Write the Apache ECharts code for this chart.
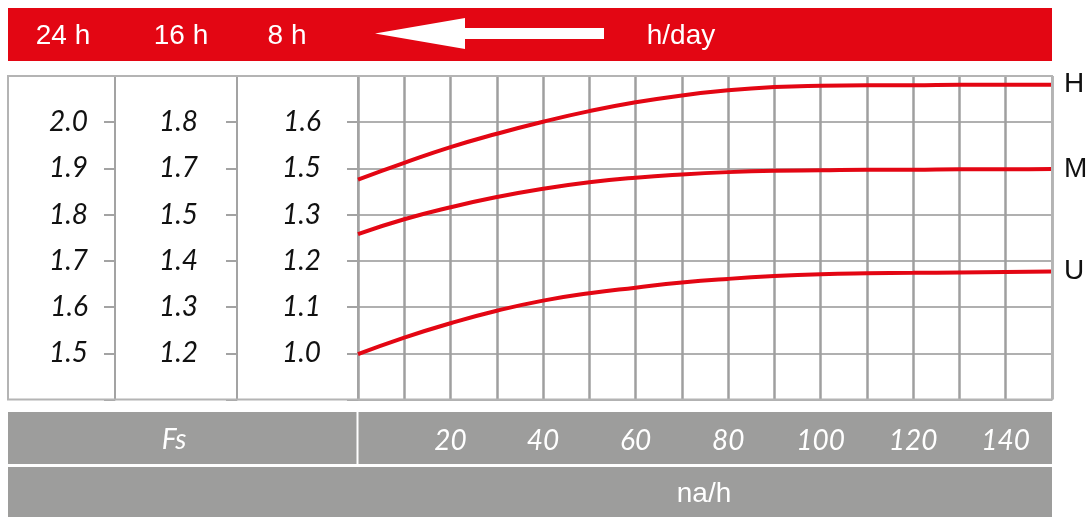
<!DOCTYPE html>
<html>
<head>
<meta charset="utf-8">
<script src="https://cdn.jsdelivr.net/npm/echarts@6/dist/echarts.min.js"></script>
<style>
html,body{margin:0;padding:0;background:#fff;}
#chart{width:1089px;height:517px;}
</style>
</head>
<body>
<div id="chart"></div>
<script>
// x values (na/h)
const naPerHour = [0,10,20,30,40,50,60,70,80,90,100,110,120,130,140,150];
// curves, expressed on the 24 h Fs scale
const curveH = [1.876,1.912,1.946,1.975,2.001,2.024,2.043,2.058,2.069,2.076,2.079,2.080,2.080,2.081,2.081,2.081];
const curveM = [1.758,1.790,1.816,1.838,1.856,1.870,1.880,1.887,1.892,1.895,1.896,1.897,1.897,1.898,1.898,1.899];
const curveU = [1.498,1.534,1.565,1.592,1.614,1.630,1.642,1.653,1.661,1.667,1.671,1.673,1.674,1.675,1.676,1.677];
// tick labels of the three Fs columns
const fs24 = ['1.5','1.6','1.7','1.8','1.9','2.0'];
const fs16 = ['1.2','1.3','1.4','1.5','1.7','1.8'];
const fs8  = ['1.0','1.1','1.2','1.3','1.5','1.6'];
const xTickLabels = [20,40,60,80,100,120,140];
const headerLabels = ['24 h','16 h','8 h'];

const RED = '#e30613';
const GRAYLINE = '#a3a3a3';
const BAR = '#9d9d9c';
const numFont = 'Lato';
const txtFont = '"Liberation Sans", Arial, sans-serif';

function makeY(labels, offset, margin, split) {
  return {
    type: 'value', min: 1.4, max: 2.1, interval: 0.1, position: 'left', offset: offset,
    axisLine: {show: true, onZero: false, lineStyle: {color: GRAYLINE, width: 2}},
    axisTick: {show: true, length: 11, lineStyle: {color: GRAYLINE, width: 2}},
    axisLabel: {
      margin: margin, color: '#111', fontSize: 28, fontStyle: 'italic', fontFamily: numFont,
      formatter: function (v) { const i = Math.round((v - 1.5) * 10); return labels[i] || ''; }
    },
    splitLine: {show: split, lineStyle: {color: '#b0b0b0', width: 2}}
  };
}

const chart = echarts.init(document.getElementById('chart'), null, {renderer: 'canvas'});

const headerX = [63, 181, 287];
const graphics = [
  {type: 'rect', shape: {x: 8, y: 8, width: 1044, height: 53}, style: {fill: RED}, z: 0},
  {type: 'polygon', shape: {points: [[375,33.5],[465,18],[465,28],[604,28],[604,39],[465,39],[465,49]]}, style: {fill: '#fff'}, z: 1},
  {type: 'text', x: 681, y: 36, style: {text: 'h/day', fill: '#fff', font: '28px ' + txtFont, textAlign: 'center', textVerticalAlign: 'middle'}, z: 1},
  {type: 'rect', shape: {x: 8, y: 76, width: 1044, height: 323.5}, style: {fill: 'none', stroke: '#b4b4b4', lineWidth: 2}, z: 5},
  {type: 'rect', shape: {x: 8, y: 412, width: 1044, height: 52}, style: {fill: BAR}, z: 0},
  {type: 'rect', shape: {x: 8, y: 467, width: 1044, height: 50}, style: {fill: BAR}, z: 0},
  {type: 'line', shape: {x1: 357.5, y1: 412, x2: 357.5, y2: 464}, style: {stroke: '#fff', lineWidth: 2}, z: 1},
  {type: 'text', x: 174, y: 440, style: {text: 'Fs', fill: '#fff', font: 'italic 28px ' + numFont, textAlign: 'center', textVerticalAlign: 'middle'}, z: 1},
  {type: 'text', x: 704, y: 494, style: {text: 'na/h', fill: '#fff', font: '28px ' + txtFont, textAlign: 'center', textVerticalAlign: 'middle'}, z: 1}
];
headerLabels.forEach(function (t, i) {
  graphics.push({type: 'text', x: headerX[i], y: 36, style: {text: t, fill: '#fff', font: '28px ' + txtFont, textAlign: 'center', textVerticalAlign: 'middle'}, z: 1});
});

function lineSeries(name, data) {
  return {
    name: name, type: 'line', yAxisIndex: 0, smooth: 0.5, symbol: 'none',
    data: naPerHour.map(function (x, i) { return [x, data[i]]; }),
    lineStyle: {color: RED, width: 4},
    endLabel: {show: true, formatter: name, color: '#111', fontSize: 28, fontFamily: txtFont, distance: 12},
    z: 3
  };
}

chart.setOption({
  animation: false,
  backgroundColor: '#fff',
  grid: {left: 358, right: 37, top: 76, bottom: 117.5, containLabel: false},
  graphic: graphics,
  xAxis: {
    type: 'value', min: 0, max: 150, interval: 10,
    axisLine: {show: false, onZero: false}, axisTick: {show: false},
    axisLabel: {
      margin: 41, verticalAlign: 'middle', color: '#fff', fontSize: 28, fontStyle: 'italic', fontFamily: numFont,
      formatter: function (v) { return xTickLabels.indexOf(v) >= 0 ? String(v) : ''; }
    },
    splitLine: {show: true, lineStyle: {color: '#9f9f9f', width: 2.5}}
  },
  yAxis: [
    makeY(fs24, 243, 27, false),
    makeY(fs16, 121, 39, false),
    makeY(fs8, 0, 37, true)
  ],
  series: [
    lineSeries('H', curveH),
    lineSeries('M', curveM),
    lineSeries('U', curveU)
  ]
});
</script>
</body>
</html>
